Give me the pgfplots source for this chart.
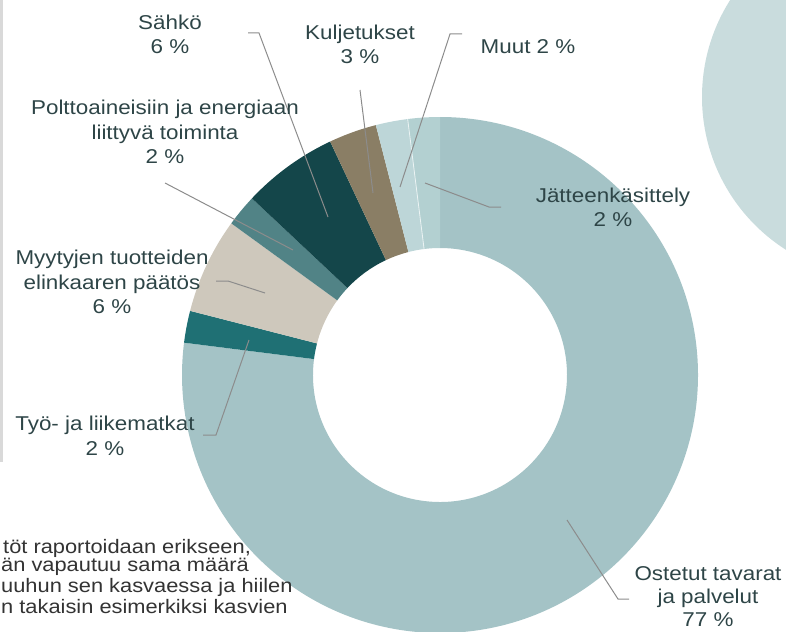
\documentclass[border=0pt]{standalone}
\usepackage{pgfplots}
\pgfplotsset{compat=1.18}
\usepackage{pgfplotstable}
\usepackage{fontspec}
\setmainfont[FakeStretch=1.12]{Liberation Sans}
\definecolor{cOst}{HTML}{A4C3C6}
\definecolor{cTyo}{HTML}{1F7074}
\definecolor{cMyy}{HTML}{CEC8BC}
\definecolor{cPol}{HTML}{518386}
\definecolor{cSah}{HTML}{14464A}
\definecolor{cKul}{HTML}{8A7E65}
\definecolor{cMuu}{HTML}{BDD6D8}
\definecolor{cJat}{HTML}{B3D0D1}
\definecolor{cBg}{HTML}{C9DCDD}
\definecolor{txt}{HTML}{2E4547}
\definecolor{lead}{HTML}{8C8C8C}

\pgfplotstableread{
label value color
Ostetut 77 cOst
Tyo 2 cTyo
Myytyjen 6 cMyy
Poltto 2 cPol
Sahko 6 cSah
Kuljetukset 3 cKul
Muut 2 cMuu
Jate 2 cJat
}\donut

\begin{document}
\begin{tikzpicture}
\begin{axis}[scale only axis, width=786pt, height=631pt,
  xmin=0, xmax=786, ymin=0, ymax=631, y dir=reverse, hide axis, clip=true]
% background decoration
\fill[cBg] (axis cs:883,97) circle[radius=181pt];
\fill[black!15] (axis cs:0,0) rectangle (axis cs:3,462);
% donut sectors from the table
\pgfplotstablegetrowsof{\donut}
\pgfmathtruncatemacro\nlast{\pgfplotsretval-1}
\def\angA{90}
\pgfplotsforeachungrouped \i in {0,...,\nlast}{%
  \pgfplotstablegetelem{\i}{value}\of\donut\let\val\pgfplotsretval
  \pgfplotstablegetelem{\i}{color}\of\donut\let\col\pgfplotsretval
  \pgfmathsetmacro\angB{\angA-3.6*\val}%
  \edef\tmp{\noexpand\fill[\col] (axis cs:440,375) ++(\angA:258pt) arc[start angle=\angA,end angle=\angB,radius=258pt] -- ++(\angB:-131pt) arc[start angle=\angB,end angle=\angA,radius=127pt] -- cycle;}%
  \tmp
  \let\angA\angB
}
% thin light separator between Muut and Jätteenkäsittely
\draw[white!70!cMuu, line width=0.8pt] (axis cs:440,375) ++(97.2:127pt) -- ++(97.2:131pt);
% leader lines
\begin{scope}[lead, line width=1pt]
\draw (axis cs:248,33) -- (axis cs:259,33) -- (axis cs:328,217);
\draw (axis cs:360,90) -- (axis cs:373,193);
\draw (axis cs:462,34) -- (axis cs:450,34) -- (axis cs:400,187);
\draw (axis cs:425,183) -- (axis cs:489,207) -- (axis cs:501,207);
\draw (axis cs:165,183) -- (axis cs:293,250);
\draw (axis cs:216,281) -- (axis cs:228,281) -- (axis cs:265,293);
\draw (axis cs:203,435) -- (axis cs:216,435) -- (axis cs:249,340);
\draw (axis cs:567,520) -- (axis cs:618,599) -- (axis cs:629,599);
\end{scope}
% labels
\begin{scope}[every node/.style={align=center, text=txt, font=\fontsize{20}{24.5}\selectfont, inner sep=0pt}]
\node at (axis cs:170,34.5) {Sähkö\\6 \%};
\node at (axis cs:360,44.5) {Kuljetukset\\3 \%};
\node at (axis cs:528,47) {Muut 2 \%};
\node at (axis cs:165,132) {Polttoaineisiin ja energiaan\\liittyvä toiminta\\2 \%};
\node at (axis cs:613,207.5) {Jätteenkäsittely\\2 \%};
\node at (axis cs:112,282) {Myytyjen tuotteiden\\elinkaaren päätös\\6 \%};
\node at (axis cs:105,436) {Työ- ja liikematkat\\2 \%};
\node[font=\fontsize{20}{23}\selectfont] at (axis cs:708,597) {Ostetut tavarat\\ja palvelut\\77 \%};
\end{scope}
\begin{scope}[every node/.style={anchor=west, text=black!80, font=\fontsize{19.5}{20}\selectfont, inner sep=0pt}]
\node at (axis cs:3,548) {töt raportoidaan erikseen,};
\node at (axis cs:1,567) {än vapautuu sama määrä};
\node at (axis cs:1,587) {uuhun sen kasvaessa ja hiilen};
\node at (axis cs:1,607) {n takaisin esimerkiksi kasvien};
\end{scope}
\end{axis}
\pgfresetboundingbox
\path[use as bounding box] (0,0) rectangle (786pt,631pt);
\end{tikzpicture}
\end{document}
